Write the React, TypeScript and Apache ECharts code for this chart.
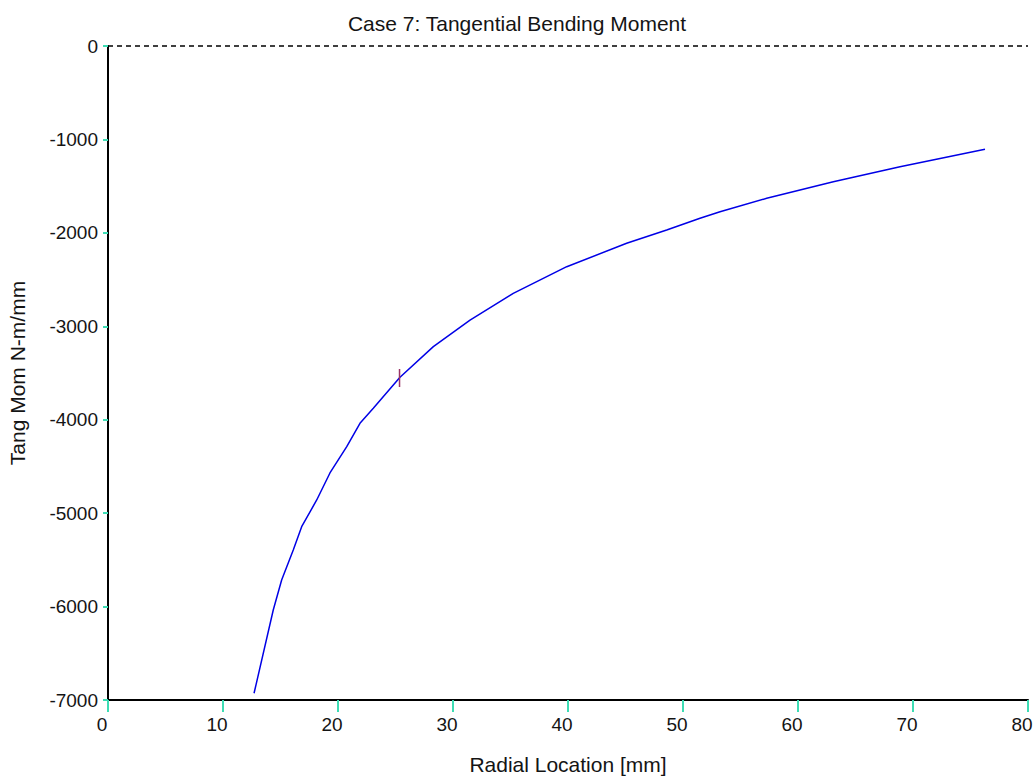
import React, { useEffect, useRef } from "react";
import * as echarts from "echarts";

const titleText = "Case 7: Tangential Bending Moment";
const xAxisTitle = "Radial Location [mm]";
const yAxisTitle = "Tang Mom N-m/mm";

const radialMm = [
  12.7, 14.37, 15.1, 16.11, 16.84, 18.15, 19.3, 20.76, 21.91, 23.07, 25.39,
  28.29, 31.48, 35.24, 39.89, 45.1, 48.58, 51.48, 53.22, 57.28, 63.07, 68.87,
  76.26,
];
const tangMom = [
  -6928, -6037, -5715, -5394, -5145, -4859, -4570, -4289, -4039, -3878, -3545,
  -3218, -2933, -2647, -2362, -2112, -1969, -1844, -1775, -1630, -1452, -1292,
  -1106,
];

const markerX = [25.35, 25.35];
const markerY = [-3457, -3650];
const zeroLine = 0;

const xMin = 0;
const xMax = 80;
const xStep = 10;
const yMin = -7000;
const yMax = 0;
const yStep = 1000;

export default function App() {
  const ref = useRef<HTMLDivElement>(null);
  useEffect(() => {
    document.body.style.margin = "0";
    const chart = echarts.init(ref.current!, null, { renderer: "svg" });
    const font = "'Liberation Sans', Arial, sans-serif";
    const textColor = "#141414";
    const tickColor = "#3ddcb4";
    chart.setOption({
      animation: false,
      backgroundColor: "#ffffff",
      title: {
        text: titleText,
        left: "center",
        top: 8,
        textStyle: {
          fontSize: 21,
          fontWeight: "normal",
          color: textColor,
          fontFamily: font,
        },
      },
      grid: {
        left: 108,
        top: 46,
        right: 6,
        bottom: 82,
        containLabel: false,
        outerBoundsMode: "none",
      },
      xAxis: {
        type: "value",
        min: xMin,
        max: xMax,
        interval: xStep,
        name: xAxisTitle,
        nameLocation: "middle",
        nameGap: 54,
        nameTextStyle: { fontSize: 21, color: textColor, fontFamily: font },
        axisLine: { show: true, onZero: false, lineStyle: { color: "#000", width: 2 } },
        axisTick: { show: true, length: 12, lineStyle: { color: tickColor, width: 2 } },
        axisLabel: {
          margin: 15,
          fontSize: 19,
          color: textColor,
          fontFamily: font,
          padding: [0, 12, 0, 0],
          formatter: (v: number) => String(v),
        },
        splitLine: { show: false },
      },
      yAxis: {
        type: "value",
        min: yMin,
        max: yMax,
        interval: yStep,
        name: yAxisTitle,
        nameLocation: "middle",
        nameGap: 80,
        nameTextStyle: { fontSize: 21, color: textColor, fontFamily: font },
        axisLine: { show: true, onZero: false, lineStyle: { color: "#000", width: 2 } },
        axisTick: { show: true, length: 5, lineStyle: { color: tickColor, width: 2 } },
        axisLabel: {
          margin: 10,
          fontSize: 19,
          color: textColor,
          fontFamily: font,
          formatter: (v: number) => String(v),
        },
        splitLine: { show: false },
      },
      series: [
        {
          type: "line",
          data: radialMm.map((x, i) => [x, tangMom[i]]),
          symbol: "none",
          lineStyle: { color: "#0000e6", width: 1.5 },
          markLine: {
            silent: true,
            symbol: "none",
            label: { show: false },
            lineStyle: { color: "#000", type: [5, 4], width: 1.5 },
            data: [{ yAxis: zeroLine }],
          },
        },
        {
          type: "line",
          data: markerX.map((x, i) => [x, markerY[i]]),
          symbol: "none",
          lineStyle: { color: "#993366", width: 1.5 },
        },
      ],
    });
    return () => chart.dispose();
  }, []);
  return <div ref={ref} style={{ width: 1034, height: 782 }} />;
}
